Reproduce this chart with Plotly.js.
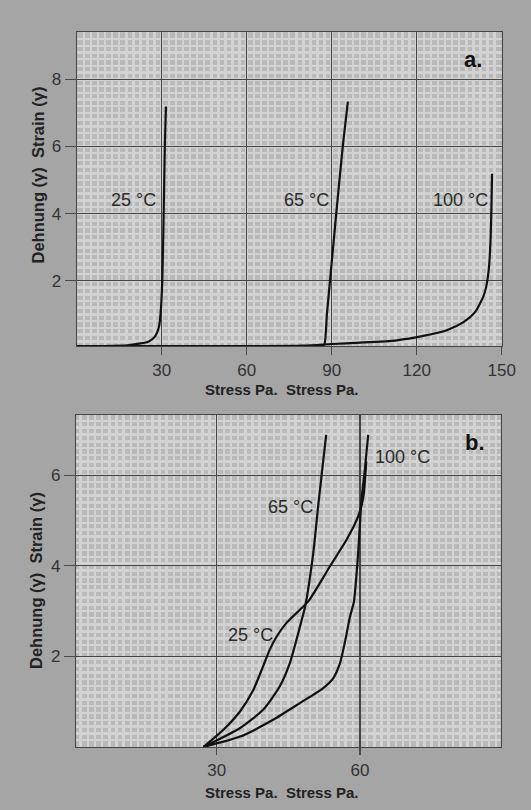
<!DOCTYPE html>
<html>
<head>
<meta charset="utf-8">
<script src="https://cdn.plot.ly/plotly-3.0.1.min.js"></script>
<style>html,body{margin:0;padding:0;background:#a5a5a5;}#chart{width:531px;height:810px;}</style>
</head>
<body>
<div id="chart"></div>
<script>
// Panel a: stress (Pa) vs strain
const a25x = [0, 10, 18, 22, 25.3, 27.6, 29.05, 29.6, 30.2, 30.7, 31.1, 31.5];
const a25y = [0.06, 0.06, 0.08, 0.13, 0.19, 0.34, 0.64, 1.03, 2, 4, 6, 7.19];
const a65x = [0, 60, 86.5, 87.4, 88.3, 89.4, 91.6, 93.9, 95.7];
const a65y = [0.06, 0.06, 0.07, 0.1, 1, 2, 4, 6, 7.34];
const a100x = [0, 80, 90, 100, 113, 122.3, 130.6, 136.5, 140.6, 143.5, 144.6, 145.5, 146.1, 146.4, 146.6];
const a100y = [0.06, 0.07, 0.12, 0.16, 0.23, 0.36, 0.53, 0.77, 1.07, 1.53, 1.85, 2.4, 3.3, 4.3, 5.19];
const aXTicks = [30, 60, 90, 120, 150];
const aYTicks = [2, 4, 6, 8];

// Panel b
const b25x = [27.2, 31.4, 34.9, 37.65, 39.7, 41.1, 42.55, 44.6, 47.4, 49.2, 53.7, 57.2, 59.6, 60.7, 61.3];
const b25y = [0, 0.38, 0.79, 1.26, 1.78, 2.15, 2.44, 2.74, 3.03, 3.22, 3.99, 4.58, 5.09, 5.53, 6.3];
const b65x = [27.2, 34.9, 39.7, 43.2, 45.3, 46.7, 47.8, 48.5, 50.2, 51.3, 52.9];
const b65y = [0, 0.42, 0.82, 1.34, 1.85, 2.37, 2.81, 3.10, 4.28, 5.39, 6.89];
const b100x = [27.2, 34.9, 41.8, 47.4, 52.3, 54.4, 55.8, 56.8, 57.9, 58.7, 59.6, 60.3, 61.0, 61.7];
const b100y = [0, 0.23, 0.6, 0.97, 1.3, 1.52, 1.85, 2.30, 2.88, 3.2, 4.28, 5.46, 6.12, 6.89];
const bXTicks = [30, 60];
const bYTicks = [2, 4, 6];

const labels = ["25 °C", "65 °C", "100 °C"];
const aLabelX = [19.9, 81.2, 135.5], aLabelY = [4.41, 4.41, 4.41];
const bLabelX = [37.1, 45.4, 68.8], bLabelY = [2.48, 5.29, 6.40];

const lineStyle = {color: '#111', width: 2.2, shape: 'spline', smoothing: 0.6};
function tr(x, y, xa, ya) {
  return {x: x, y: y, xaxis: xa, yaxis: ya, mode: 'lines', line: lineStyle, hoverinfo: 'skip', showlegend: false};
}
const data = [
  tr(a25x, a25y, 'x', 'y'), tr(a65x, a65y, 'x', 'y'), tr(a100x, a100y, 'x', 'y'),
  tr(b25x, b25y, 'x2', 'y2'), tr(b65x, b65y, 'x2', 'y2'), tr(b100x, b100y, 'x2', 'y2')
];

const tickFont = {family: 'Liberation Sans, Arial, sans-serif', size: 17, color: '#333'};
function axisBase(extra) {
  return Object.assign({
    showgrid: true, gridcolor: '#444', gridwidth: 1.2,
    showline: true, linecolor: '#444', linewidth: 1.2, mirror: true,
    ticks: 'outside', tickcolor: '#4a4a4a', tickwidth: 1.2,
    zeroline: false, tickfont: tickFont, tickmode: 'array', fixedrange: true
  }, extra);
}
const minorGrid = '#d2d2d2';
const W = 531, H = 810;
const layout = {
  width: W, height: H,
  margin: {l: 0, r: 0, t: 0, b: 0},
  paper_bgcolor: '#a5a5a5', plot_bgcolor: '#b9b9b9',
  showlegend: false,
  xaxis: axisBase({domain: [76.7 / W, 501.7 / W], range: [0, 150], tickvals: aXTicks, ticktext: aXTicks.map(String), ticklen: 8, anchor: 'y',
    minor: {dtick: 2.5, showgrid: true, gridcolor: minorGrid, gridwidth: 2.5, ticks: ''}}),
  yaxis: axisBase({domain: [1 - 346 / H, 1 - 32 / H], range: [0.06, 9.41], tickvals: aYTicks, ticktext: aYTicks.map(String), ticklen: 11, anchor: 'x',
    minor: {dtick: 0.2, showgrid: true, gridcolor: minorGrid, gridwidth: 2.5, ticks: ''}}),
  xaxis2: axisBase({domain: [76 / W, 501 / W], range: [0.54, 89.5], tickvals: bXTicks, ticktext: bXTicks.map(String), ticklen: 7, anchor: 'y2',
    minor: {dtick: 1.5, showgrid: true, gridcolor: minorGrid, gridwidth: 2.5, ticks: ''}}),
  yaxis2: axisBase({domain: [1 - 747 / H, 1 - 415 / H], range: [0, 7.33], tickvals: bYTicks, ticktext: bYTicks.map(String), ticklen: 11, anchor: 'x2',
    minor: {dtick: 0.15, showgrid: true, gridcolor: minorGrid, gridwidth: 2.5, ticks: ''}}),
  annotations: []
};

const labFont = {family: 'Liberation Sans, Arial, sans-serif', size: 18, color: '#2a2a2a'};
for (let i = 0; i < 3; i++) {
  layout.annotations.push({x: aLabelX[i], y: aLabelY[i], xref: 'x', yref: 'y', text: labels[i], showarrow: false, font: labFont, xanchor: 'center', yanchor: 'middle'});
  layout.annotations.push({x: bLabelX[i], y: bLabelY[i], xref: 'x2', yref: 'y2', text: labels[i], showarrow: false, font: labFont, xanchor: 'center', yanchor: 'middle'});
}
const titleFont = {family: 'Liberation Sans, Arial, sans-serif', size: 15, color: '#222'};
const xTitle = '<b>Stress Pa.\u00a0 Stress Pa.</b>';
const yTitle = '<b>Dehnung (γ)\u00a0 Strain (γ)</b>';
layout.annotations.push({x: 281.7 / W, y: 1 - 389 / H, xref: 'paper', yref: 'paper', text: xTitle, showarrow: false, font: titleFont, xanchor: 'center', yanchor: 'middle'});
layout.annotations.push({x: 281 / W, y: 1 - 792.5 / H, xref: 'paper', yref: 'paper', text: xTitle, showarrow: false, font: titleFont, xanchor: 'center', yanchor: 'middle'});
layout.annotations.push({x: 37.5 / W, y: 1 - 175 / H, xref: 'paper', yref: 'paper', text: yTitle, textangle: -90, showarrow: false, font: Object.assign({}, titleFont, {size: 16.5}), xanchor: 'center', yanchor: 'middle'});
layout.annotations.push({x: 36 / W, y: 1 - 581 / H, xref: 'paper', yref: 'paper', text: yTitle, textangle: -90, showarrow: false, font: Object.assign({}, titleFont, {size: 16.5}), xanchor: 'center', yanchor: 'middle'});
const panelFont = {family: 'Liberation Sans, Arial, sans-serif', size: 22, color: '#111'};
layout.annotations.push({x: 472.5 / W, y: 1 - 59 / H, xref: 'paper', yref: 'paper', text: '<b>a.</b>', showarrow: false, font: panelFont, xanchor: 'center', yanchor: 'middle'});
layout.annotations.push({x: 475 / W, y: 1 - 442.5 / H, xref: 'paper', yref: 'paper', text: '<b>b.</b>', showarrow: false, font: panelFont, xanchor: 'center', yanchor: 'middle'});

Plotly.newPlot('chart', data, layout, {staticPlot: true, displayModeBar: false});
</script>
</body>
</html>
